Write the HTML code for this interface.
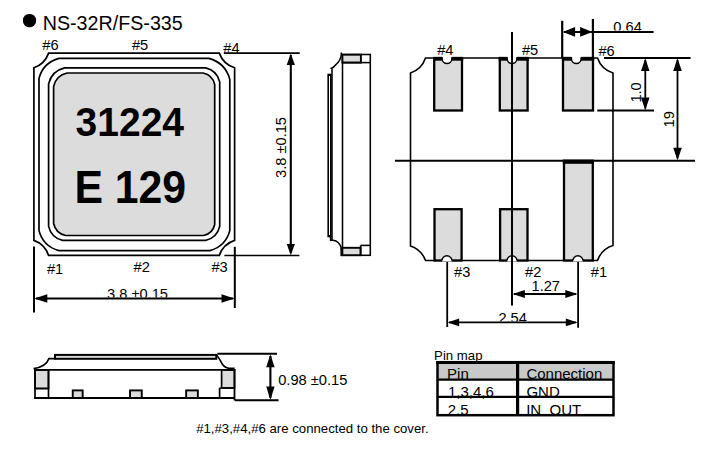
<!DOCTYPE html>
<html><head><meta charset="utf-8"><title>NS-32R/FS-335</title>
<style>
html,body{margin:0;padding:0;background:#fff;}
svg{display:block;}
svg text{font-family:"Liberation Sans",Arial,Helvetica,sans-serif;fill:#000;}
</style></head>
<body>
<svg width="723" height="458" viewBox="0 0 723 458">
<rect width="723" height="458" fill="#fff"/>
<rect x="22.9" y="13.9" width="13.2" height="13.3" rx="6" ry="6.3" fill="#000"/>
<text transform="translate(42.7,29.8) scale(1,1.035)" font-size="19.7">NS-32R/FS-335</text>
<g fill="none" stroke="#000" stroke-width="1.7">
<path d="M48.6,53.1 H219.3 A24,24 0 0 0 234.6,67.8 V240.4 A24,24 0 0 0 219.3,255.4 H48.6 A24,24 0 0 0 33.9,240.4 V67.8 A24,24 0 0 0 48.6,53.1 Z" fill="#fff"/>
<path d="M59.00,58.40 H208.80 Q225.39,62.81 229.80,79.40 V230.60 Q225.60,246.40 209.80,250.60 H59.00 Q43.20,246.40 39.00,230.60 V78.40 Q43.20,62.60 59.00,58.40 Z" />
<path d="M64.60,67.90 H205.70 Q217.04,70.56 219.70,81.90 V226.40 Q217.04,237.74 205.70,240.40 H62.60 Q51.26,237.74 48.60,226.40 V83.90 Q51.64,70.94 64.60,67.90 Z" />
<path d="M67.10,73.00 H203.20 Q212.63,75.07 214.70,84.50 V224.50 Q212.72,233.52 203.70,235.50 H65.60 Q55.76,233.34 53.60,223.50 V86.50 Q56.03,75.43 67.10,73.00 Z" fill="#dcdcdc"/>
</g>
<text transform="translate(75.6,136.3) scale(0.962,1)" font-size="40.55" font-weight="bold">31224</text>
<text transform="translate(74.4,203) scale(0.922,1)" font-size="46.4" font-weight="bold">E 129</text>
<text x="42.3" y="49.8" font-size="14.67">#6</text>
<text x="131.9" y="50.3" font-size="14.67">#5</text>
<text x="223.3" y="52.8" font-size="14.67">#4</text>
<text x="46.9" y="273.5" font-size="14.67">#1</text>
<text x="133.5" y="272.3" font-size="14.67">#2</text>
<text x="211.4" y="272.3" font-size="14.67">#3</text>
<g stroke="#000" stroke-width="1.8" fill="none">
<path d="M223.9,53.1 H299.7" stroke-width="1.6"/>
<path d="M224.4,255.5 H299.4" stroke-width="1.6"/>
<path d="M290.8,55 V253" stroke-width="2.1"/>
<path d="M34,246.6 V312.5" stroke-width="2"/>
<path d="M234.8,246.8 V308" stroke-width="2"/>
<path d="M36,298.5 H233" stroke-width="2.1"/>
</g>
<polygon points="290.8,53.4 286.7,64.9 294.9,64.9" fill="#000"/>
<polygon points="290.8,255.2 286.7,244.0 294.9,244.0" fill="#000"/>
<polygon points="34.3,298.5 47.3,294.2 47.3,302.8" fill="#000"/>
<polygon points="234.5,298.5 221.5,294.2 221.5,302.8" fill="#000"/>
<clipPath id="c1"><rect x="100" y="280" width="80" height="17.6"/></clipPath>
<text x="107" y="298.6" font-size="14.67" clip-path="url(#c1)">3.8 ±0.15</text>
<text transform="translate(286,178) rotate(-90)" font-size="14.67">3.8 ±0.15</text>
<g stroke="#000" stroke-width="1.55" fill="none">
<rect x="342.5" y="54.5" width="27.8" height="200.8" fill="#fff"/>
<rect x="342.4" y="54.7" width="18.5" height="7.9" fill="#dcdcdc" stroke-width="1.9"/>
<path d="M342.2,62.6 H370.3"/>
<rect x="342.4" y="247.8" width="18.2" height="7.4" fill="#dcdcdc" stroke-width="1.9"/>
<path d="M360.6,245.4 H370.3"/>
<path d="M360.6,245.4 V255"/>
<path d="M341.3,52.6 V54.5 Q340.8,60.5 336,64.5 Q333.5,67.6 331.6,68.3 H330.4"/>
<path d="M332,68.3 V240.2"/>
<rect x="328.2" y="74.5" width="2.6" height="162" stroke-width="1.6" fill="#fff"/>
<path d="M330.6,236.5 V240.3 H333 Q339.5,241 341.6,249"/>
<path d="M341.7,248 V256.1" stroke-width="2.6"/>
</g>
<g stroke="#000" stroke-width="1.7" fill="none">
<rect x="55" y="354.9" width="161.3" height="3.9" fill="#dcdcdc" stroke-width="2"/>
<path d="M55,358.6 H49 A19,13 0 0 1 33.6,368.6"/>
<path d="M216.3,355 Q219,357.6 220.6,361 Q223,367.4 229,368.4 H234.6"/>
<rect x="35" y="370" width="13.5" height="18.5" fill="#dcdcdc"/>
<rect x="221.6" y="370" width="12.9" height="18" fill="#dcdcdc"/>
<path d="M34,369.9 H235.2" stroke-width="1.8"/>
<path d="M35,369.9 V398.6 M48.5,369.9 V398 M35,388.5 H48.5"/>
<path d="M219.6,388 H234.5 M219.6,388 V398"/>
<path d="M234.5,369 V400.5" stroke-width="1.8"/>
<rect x="72.75" y="390.4" width="9.90" height="7.6" fill="#dcdcdc" stroke-width="1.9"/>
<rect x="130.05" y="390.4" width="11.70" height="7.6" fill="#dcdcdc" stroke-width="1.9"/>
<rect x="186.15" y="390.4" width="11.70" height="7.6" fill="#dcdcdc" stroke-width="1.9"/>
<path d="M34.2,398 H235" stroke-width="1.9"/>
<path d="M217.3,353.8 H277" stroke-width="1.9"/>
<path d="M235,400.3 H278.6" stroke-width="1.9"/>
<path d="M270.4,356 V398" stroke-width="2.1"/>
</g>
<polygon points="270.4,354.2 266.2,367.2 274.6,367.2" fill="#000"/>
<polygon points="270.4,400.0 266.2,386.5 274.6,386.5" fill="#000"/>
<text x="278.2" y="384.8" font-size="14.67">0.98 ±0.15</text>
<text x="196.2" y="432.6" font-size="13.2">#1,#3,#4,#6 are connected to the cover.</text>
<g stroke="#000" stroke-width="1.6" fill="none">
<path d="M425.5,58 H597.5 A24,24 0 0 0 613,73 V245.5 A24,24 0 0 0 597.5,260.5 H425.5 A24,24 0 0 0 410.5,246 V73 A24,24 0 0 0 425.5,58 Z" fill="#fff"/>
</g>
<g stroke="#000" stroke-width="2.3" fill="#dcdcdc">
<rect x="434.2" y="58.0" width="27.8" height="52.5"/>
<rect x="499.8" y="58.0" width="27.8" height="52.5"/>
<rect x="563.0" y="58.0" width="30.0" height="52.5"/>
<rect x="434.5" y="209.2" width="27.1" height="51.3"/>
<rect x="500.1" y="209.2" width="27.4" height="51.3"/>
<rect x="564.0" y="160.8" width="28.8" height="99.7"/>
</g>
<rect x="433.1" y="57.1" width="30.1" height="3.6" fill="#000"/>
<rect x="498.7" y="57.1" width="30.1" height="3.6" fill="#000"/>
<rect x="561.9" y="57.1" width="32.3" height="3.6" fill="#000"/>
<rect x="562.8" y="159.8" width="31.2" height="4" fill="#000"/>
<path d="M442.2,55 V59 A4.8,4.5 0 0 0 451.8,59 V55 Z" fill="#fff" stroke="none"/>
<path d="M442.2,57.2 V59 A4.8,4.5 0 0 0 451.8,59 V57.2" fill="none" stroke="#000" stroke-width="1.4"/>
<path d="M507.2,55 V59 A4.8,4.5 0 0 0 516.8,59 V55 Z" fill="#fff" stroke="none"/>
<path d="M507.2,57.2 V59 A4.8,4.5 0 0 0 516.8,59 V57.2" fill="none" stroke="#000" stroke-width="1.4"/>
<path d="M571.5,55 V59 A4.8,4.5 0 0 0 581.1,59 V55 Z" fill="#fff" stroke="none"/>
<path d="M571.5,57.2 V59 A4.8,4.5 0 0 0 581.1,59 V57.2" fill="none" stroke="#000" stroke-width="1.4"/>
<path d="M441.9,261.6 A5,4.8 0 0 1 451.9,261.6 Z" fill="#fff" stroke="none"/>
<path d="M441.9,260.6 A5,4.8 0 0 1 451.9,260.6" fill="none" stroke="#000" stroke-width="1.4"/>
<path d="M507.0,261.6 A5,4.8 0 0 1 517.0,261.6 Z" fill="#fff" stroke="none"/>
<path d="M507.0,260.6 A5,4.8 0 0 1 517.0,260.6" fill="none" stroke="#000" stroke-width="1.4"/>
<path d="M572.9,261.6 A5,4.8 0 0 1 582.9,261.6 Z" fill="#fff" stroke="none"/>
<path d="M572.9,260.6 A5,4.8 0 0 1 582.9,260.6" fill="none" stroke="#000" stroke-width="1.4"/>
<g stroke="#000" stroke-width="1.8" fill="none">
<path d="M512,32 V305.5" stroke-width="2"/>
<path d="M394.9,160.8 H695" stroke-width="2"/>
<path d="M562.2,20.8 V58" stroke-width="2.2"/>
<path d="M592.9,19 V58" stroke-width="2.2"/>
<path d="M564,31.9 H653.6" stroke-width="2"/>
<path d="M604,58 H690.6"/>
<path d="M597.3,110.5 H654"/>
<path d="M645.3,60 V108.5" stroke-width="1.8"/>
<path d="M677.5,60 V158.5" stroke-width="1.8"/>
<path d="M447.2,262 V327"/>
<path d="M578.1,262 V327.8"/>
<path d="M514,294 H576" stroke-width="2"/>
<path d="M449,322.4 H576" stroke-width="1.7"/>
</g>
<polygon points="562.3,31.6 562.3,31.6 562.3,31.6" fill="#000"/>
<polygon points="562.8,31.9 575.1,27.0 575.1,36.8" fill="#000"/>
<polygon points="592.4,31.9 580.1,27.0 580.1,36.8" fill="#000"/>
<polygon points="645.3,58.3 641.0,70.9 649.5,70.9" fill="#000"/>
<polygon points="645.3,110.2 641.0,97.6 649.5,97.6" fill="#000"/>
<polygon points="677.5,58.3 673.2,70.9 681.8,70.9" fill="#000"/>
<polygon points="677.5,160.3 673.2,147.7 681.8,147.7" fill="#000"/>
<polygon points="512.6,294.0 524.9,290.1 524.9,297.9" fill="#000"/>
<polygon points="577.6,294.0 565.3,290.1 565.3,297.9" fill="#000"/>
<polygon points="447.6,322.4 459.1,318.5 459.1,326.3" fill="#000"/>
<polygon points="577.6,322.4 565.8,318.5 565.8,326.3" fill="#000"/>
<clipPath id="c2"><rect x="600" y="15" width="60" height="15.6"/></clipPath>
<text x="613.3" y="31.8" font-size="14.67" clip-path="url(#c2)">0.64</text>
<text transform="translate(641.1,102.6) rotate(-90)" font-size="14.67">1.0</text>
<text transform="translate(674.1,127.5) rotate(-90)" font-size="14.67">1<tspan font-size="0.5">.</tspan>9</text>
<text x="531.5" y="291.3" font-size="14.67">1.27</text>
<clipPath id="c3"><rect x="490" y="305" width="50" height="16.6"/></clipPath>
<text x="498.4" y="322.5" font-size="14.67" clip-path="url(#c3)">2.54</text>
<text x="437.2" y="54.8" font-size="14.67">#4</text>
<text x="521.9" y="54.9" font-size="14.67">#5</text>
<text x="598.4" y="55.7" font-size="14.67">#6</text>
<text x="454.1" y="276.9" font-size="14.67">#3</text>
<text x="525.1" y="276.9" font-size="14.67">#2</text>
<text x="590.8" y="276.9" font-size="14.67">#1</text>
<clipPath id="c4"><rect x="430" y="340" width="60" height="21.2"/></clipPath>
<text x="434.1" y="360" font-size="13.2" clip-path="url(#c4)">Pin map</text>
<rect x="437.5" y="362.2" width="176.2" height="53" fill="#fff"/>
<rect x="437.5" y="362.2" width="176.2" height="17.6" fill="#c9c9c9"/>
<clipPath id="c5"><rect x="437.5" y="362.2" width="176" height="53.2"/></clipPath>
<g clip-path="url(#c5)">
<text x="447.1" y="379" font-size="15">Pin</text>
<text x="526.4" y="378.6" font-size="15">Connection</text>
<text x="447.9" y="396.8" font-size="15">1,3,4,6</text>
<text x="526.4" y="396.7" font-size="15">GND</text>
<text x="447.7" y="415" font-size="15">2,5</text>
<text x="526.2" y="414.7" font-size="15">IN_OUT</text>
</g>
<g stroke="#000" fill="none">
<rect x="437.5" y="362.2" width="176" height="53" stroke-width="2.5"/>
<path d="M517.6,362 V415.5" stroke-width="3.2"/>
<path d="M437.5,379.6 H613.5 M437.5,396.9 H613.5" stroke-width="2.1"/>
<path d="M436.3,362.4 H614.75" stroke-width="3"/>
</g>
</svg>
</body></html>
